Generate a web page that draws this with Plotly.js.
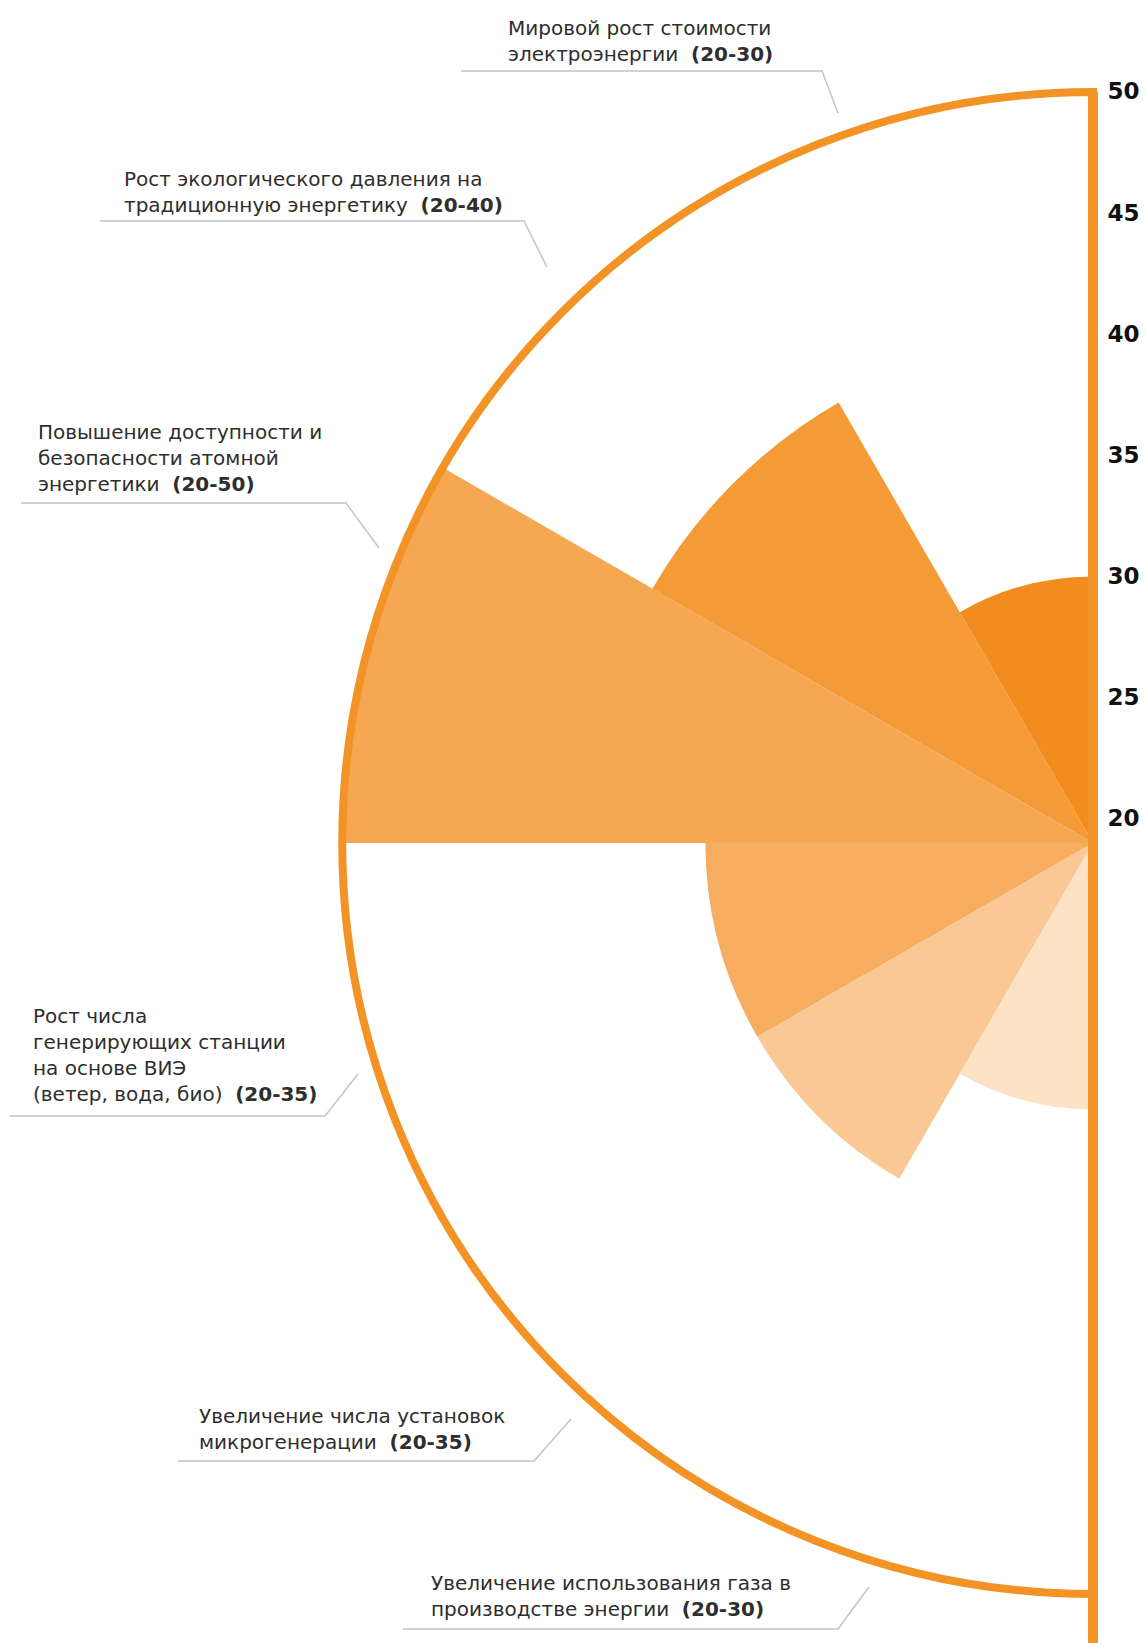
<!DOCTYPE html>
<html><head><meta charset="utf-8">
<script src="https://cdn.plot.ly/plotly-3.0.1.min.js"></script>
<style>html,body{margin:0;padding:0;background:#fff;} #chart{width:1146px;height:1643px;}</style>
</head><body><div id="chart"></div>
<script>
// ---- data ----
const baseValue = 20;
const labelLines = [
  ["Мировой рост стоимости", "электроэнергии"],
  ["Рост экологического давления на", "традиционную энергетику"],
  ["Повышение доступности и", "безопасности атомной", "энергетики"],
  ["Рост числа", "генерирующих станции", "на основе ВИЭ", "(ветер, вода, био)"],
  ["Увеличение числа установок", "микрогенерации"],
  ["Увеличение использования газа в", "производстве энергии"]
];
const categories = labelLines.map(l => l.join(" "));
const values = [30, 40, 50, 35, 35, 30];
const radialTicks = [20, 25, 30, 35, 40, 45, 50];
const colors = ["#F28C1F", "#F49A36", "#F6A752", "#F7AD60", "#FAC894", "#FDE2C5"];

// ---- layout helpers ----
const W = 1146, H = 1643;
const px = x => x / W;
const py = y => 1 - y / H;
const cx = 1093, cy = 843, R = 751;
const orange = "#F39325";

// label placement (pixels): text left x, block middle y, leader line
const labelPos = [
  {x: 506, y: 41,    ly: 71,   lx0: 461, lx1: 822, ex: 838, ey: 113},
  {x: 122, y: 192,   ly: 221,  lx0: 100, lx1: 524, ex: 547, ey: 267},
  {x: 36,  y: 458,   ly: 503,  lx0: 21,  lx1: 346, ex: 379, ey: 548},
  {x: 31,  y: 1055,  ly: 1116, lx0: 10,  lx1: 325, ex: 358, ey: 1074},
  {x: 197, y: 1429,  ly: 1461, lx0: 178, lx1: 534, ex: 571, ey: 1419},
  {x: 429, y: 1596,  ly: 1629, lx0: 403, lx1: 838, ex: 869, ey: 1587}
];

const annotations = labelLines.map((lines, i) => {
  const p = labelPos[i];
  const txt = lines.slice(0, -1).concat([lines[lines.length - 1] + "\u00a0\u00a0<b>(" + baseValue + "-" + values[i] + ")</b>"]).join("<br>");
  return {
    xref: "paper", yref: "paper", x: px(p.x), y: py(p.y),
    xanchor: "left", yanchor: "middle", align: "left", showarrow: false,
    text: txt,
    font: {family: "DejaVu Sans", size: 20, color: "#2e2e2e"}
  };
});

const shapes = labelPos.map(p => ({
  type: "path", xref: "paper", yref: "paper",
  path: `M ${px(p.lx0)} ${py(p.ly)} L ${px(p.lx1)} ${py(p.ly)} L ${px(p.ex)} ${py(p.ey)}`,
  line: {color: "#c4c4c4", width: 1.5}
}));
// continuation of the vertical axis line below the half-disc
shapes.push({
  type: "line", xref: "paper", yref: "paper",
  x0: px(cx), x1: px(cx), y0: py(cy + R - 2), y1: 0,
  line: {color: orange, width: 10}
});

const domain = {x: [px(cx - R), px(cx)], y: [py(cy + R), py(cy - R)]};

const traces = [{
  type: "barpolar",
  r: values,
  theta: categories,
  marker: {color: colors, line: {width: 0}},
  hoverinfo: "theta+r",
  subplot: "polar"
}, {
  type: "scatterpolar",
  r: [], theta: [],
  subplot: "polar2",
  showlegend: false, hoverinfo: "skip"
}];

const angCommon = {
  type: "category", period: 12, rotation: 105, direction: "counterclockwise",
  showgrid: false, showticklabels: false, ticks: ""
};

const layout = {
  width: W, height: H,
  margin: {l: 0, r: 0, t: 0, b: 0},
  paper_bgcolor: "#ffffff",
  showlegend: false,
  polar: {
    domain: domain,
    sector: [90, 270],
    bargap: 0,
    bgcolor: "rgba(0,0,0,0)",
    radialaxis: {
      range: [19, 50], angle: 90, side: "clockwise",
      tickvals: radialTicks, ticks: "outside", ticklen: 5, tickcolor: "rgba(0,0,0,0)", tickangle: 90,
      showgrid: false, showline: true, linecolor: orange, linewidth: 10,
      tickfont: {family: "DejaVu Sans", size: 23, color: "#111111", weight: "bold"}
    },
    angularaxis: Object.assign({}, angCommon, {
      categoryarray: categories,
      showline: true, linecolor: orange, linewidth: 8
    })
  },
  polar2: {
    domain: domain,
    sector: [90, 270],
    bgcolor: "rgba(0,0,0,0)",
    radialaxis: {
      range: [19, 50], angle: 270, showticklabels: false, ticks: "",
      showgrid: false, showline: true, linecolor: orange, linewidth: 10
    },
    angularaxis: Object.assign({}, angCommon, {showline: false})
  },
  annotations: annotations,
  shapes: shapes
};

Plotly.newPlot("chart", traces, layout, {displayModeBar: false, staticPlot: true});
</script>
</body></html>
